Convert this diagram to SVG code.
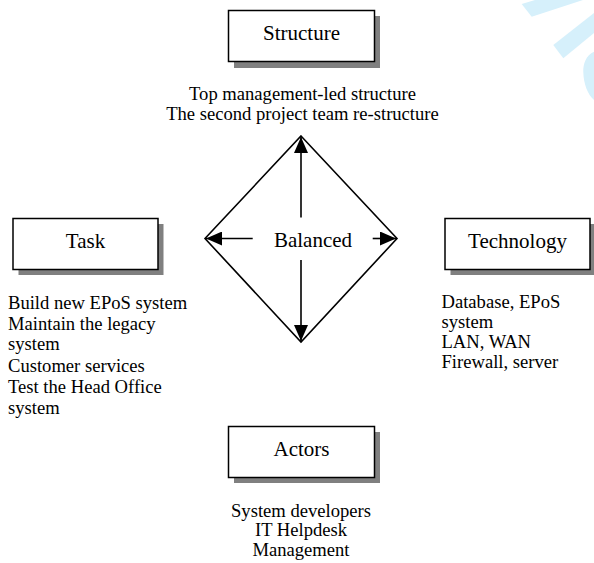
<svg xmlns="http://www.w3.org/2000/svg" width="594" height="563" viewBox="0 0 594 563" font-family="'Liberation Serif', 'Times New Roman', serif">
  <defs>
    <style>
      .box { fill: #ffffff; stroke: #000000; stroke-width: 1.5; }
      .shadow { fill: #808080; }
      .label { font-family: "Liberation Serif", "Times New Roman", serif; font-size: 21px; fill: #000000; text-anchor: middle; }
      .note { font-family: "Liberation Serif", "Times New Roman", serif; font-size: 18.6px; fill: #000000; }
      .mid { text-anchor: middle; }
      .edge { stroke: #000000; stroke-width: 1.6; fill: none; }
      .mark { fill: #d6f0fb; }
    </style>
    <marker id="head" viewBox="0 0 16 14" refX="16" refY="7" markerWidth="16" markerHeight="14" markerUnits="userSpaceOnUse" orient="auto">
      <path d="M0,0 L16,7 L0,14 Z" fill="#000000"/>
    </marker>
  </defs>

  <!-- light background marks in the top-right corner -->
  <g id="background-marks">
    <polygon class="mark" points="521.7,4 535,0 583,0 531.7,16.7"/>
    <polygon class="mark" points="553.3,45 563.3,58.3 594,33 594,13"/>
    <path class="mark" d="M594,51.7 C586,55 583,64 583.3,72 C583.5,84 588,95 594,100 Z"/>
  </g>

  <!-- central balance diamond -->
  <g id="balanced">
    <polygon class="edge" points="301,136 397,238.5 301,342 205,238.5"/>
    <text class="label" x="313" y="246.5">Balanced</text>
  </g>

  <g id="connectors">
    <line class="edge" x1="301" y1="217.5" x2="301" y2="137" marker-end="url(#head)"/>
    <line class="edge" x1="301" y1="260" x2="301" y2="341" marker-end="url(#head)"/>
    <line class="edge" x1="252.7" y1="238.5" x2="206" y2="238.5" marker-end="url(#head)"/>
    <line class="edge" x1="372.7" y1="238.5" x2="396" y2="238.5" marker-end="url(#head)"/>
  </g>

  <g id="structure">
    <rect class="shadow" x="234" y="16" width="146" height="52"/>
    <rect class="box" x="228.5" y="10.5" width="146" height="51"/>
    <text class="label" x="301.5" y="40">Structure</text>
    <text class="note mid" x="302.5" y="100">Top management-led structure</text>
    <text class="note mid" x="302.5" y="119.5">The second project team re-structure</text>
  </g>

  <g id="task">
    <rect class="shadow" x="18.5" y="224" width="145" height="51"/>
    <rect class="box" x="13" y="218.5" width="145" height="51"/>
    <text class="label" x="85.5" y="248">Task</text>
    <text class="note" x="8" y="308.5">Build new EPoS system</text>
    <text class="note" x="8" y="329.5">Maintain the legacy</text>
    <text class="note" x="8" y="350">system</text>
    <text class="note" x="8" y="371.5">Customer services</text>
    <text class="note" x="8" y="392.5">Test the Head Office</text>
    <text class="note" x="8" y="413.5">system</text>
  </g>

  <g id="technology">
    <rect class="shadow" x="450.5" y="224" width="145" height="51"/>
    <rect class="box" x="445" y="218.5" width="145" height="51"/>
    <text class="label" x="517.5" y="248">Technology</text>
    <text class="note" x="441.5" y="307.5">Database, EPoS</text>
    <text class="note" x="441.5" y="328">system</text>
    <text class="note" x="441.5" y="348">LAN, WAN</text>
    <text class="note" x="441.5" y="368">Firewall, server</text>
  </g>

  <g id="actors">
    <rect class="shadow" x="234" y="432" width="146" height="51"/>
    <rect class="box" x="228.5" y="426.5" width="146" height="51"/>
    <text class="label" x="301.5" y="456">Actors</text>
    <text class="note mid" x="301" y="516.5">System developers</text>
    <text class="note mid" x="301" y="536">IT Helpdesk</text>
    <text class="note mid" x="301" y="556">Management</text>
  </g>
</svg>
